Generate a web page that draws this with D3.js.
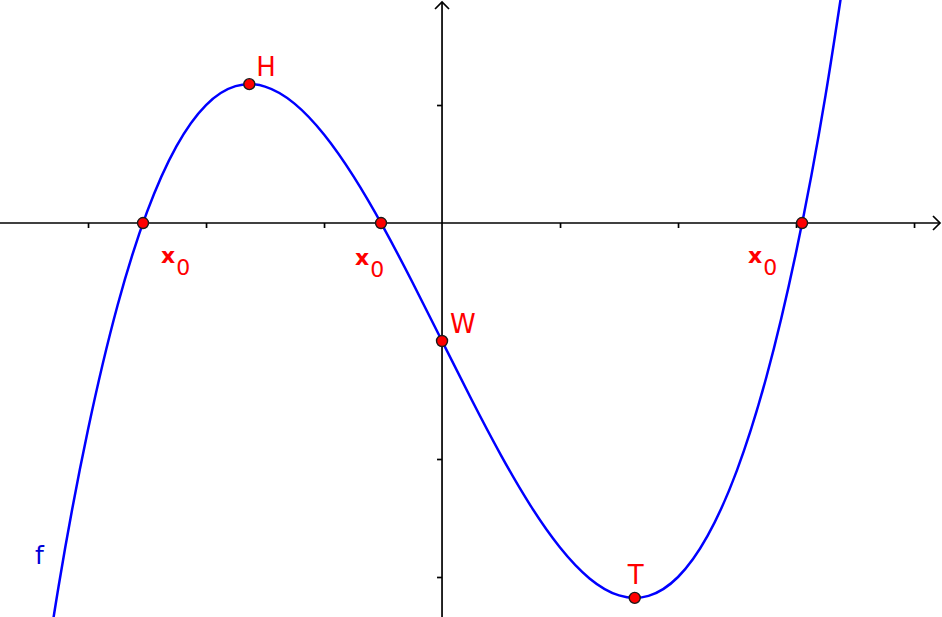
<!DOCTYPE html>
<html>
<head>
<meta charset="utf-8">
<script src="https://cdn.jsdelivr.net/npm/d3@7"></script>
<style>
  html, body { margin: 0; padding: 0; background: #fff; }
  svg { display: block; }
  text { font-family: "DejaVu Sans", sans-serif; }
</style>
</head>
<body>
<svg id="chart" width="942" height="617"></svg>
<script>
// ---- data ----
const curveX = [-3.5, -3.25, -3.0, -2.75, -2.5, -2.25, -2.0, -1.75, -1.5, -1.25, -1.0, -0.75, -0.5, -0.25,
                0, 0.25, 0.5, 0.75, 1.0, 1.25, 1.5, 1.75, 2.0, 2.25, 2.5, 2.75, 3.0, 3.25, 3.5];
const curveY = [-4.719, -3.082, -1.75, -0.699, 0.094, 0.652, 1.0, 1.160, 1.156, 1.012, 0.75, 0.395, -0.031, -0.504,
                -1.0, -1.496, -1.969, -2.395, -2.75, -3.012, -3.156, -3.160, -3.0, -2.652, -2.094, -1.301, -0.25, 1.082, 2.719];

const pointNames = ["x0", "x0", "x0", "H", "W", "T"];
const pointX = [-2.534, -0.517, 3.051, -1.633, 0, 1.633];
const pointY = [0, 0, 0, 1.177, -1.0, -3.177];

const xTicks = [-3, -2, -1, 1, 2, 3, 4];
const yTicks = [1, -1, -2, -3];

const funcName = "f";
const funcLabelPos = [-3.45, -2.89];

// ---- layout ----
const W = 942, H = 617;
const svg = d3.select("#chart");
const x = d3.scaleLinear().domain([-3.746, 4.237]).range([0, W]);
const y = d3.scaleLinear().domain([1.89, -3.339]).range([0, H]);
const x0 = x(0), y0 = y(0);

// axes lines
const axes = svg.append("g").attr("stroke", "#000").attr("stroke-width", 1.7).attr("fill", "none");
axes.append("line").attr("x1", 0).attr("x2", W - 2).attr("y1", y0).attr("y2", y0);
axes.append("line").attr("x1", x0).attr("x2", x0).attr("y1", 2).attr("y2", H);
// arrows
axes.append("path").attr("d", `M${W - 9},${y0 - 7} L${W - 2},${y0} L${W - 9},${y0 + 7}`);
axes.append("path").attr("d", `M${x0 - 7},${9} L${x0},${2} L${x0 + 7},${9}`);

// ticks via axis generators
const xAxis = d3.axisBottom(x).tickValues(xTicks).tickSizeInner(5).tickSizeOuter(0).tickFormat("");
const yAxis = d3.axisLeft(y).tickValues(yTicks).tickSizeInner(5).tickSizeOuter(0).tickFormat("");
const gx = svg.append("g").attr("transform", `translate(0,${y0})`).call(xAxis);
const gy = svg.append("g").attr("transform", `translate(${x0},0)`).call(yAxis);
[gx, gy].forEach(g => {
  g.select(".domain").remove();
  g.selectAll(".tick line").attr("stroke", "#000").attr("stroke-width", 1.7);
});

// curve
const pts = curveX.map((d, i) => [d, curveY[i]]);
svg.append("path")
  .datum(pts)
  .attr("fill", "none")
  .attr("stroke", "#0000ff")
  .attr("stroke-width", 2.5)
  .attr("d", d3.line().x(d => x(d[0])).y(d => y(d[1])).curve(d3.curveNatural));

// function label
svg.append("text")
  .attr("x", x(funcLabelPos[0])).attr("y", y(funcLabelPos[1]))
  .attr("fill", "#0000d8").attr("font-size", 25)
  .text(funcName);

// points
const pdata = pointNames.map((n, i) => ({ n, x: pointX[i], y: pointY[i] }));
svg.append("g").selectAll("circle").data(pdata).join("circle")
  .attr("cx", d => x(d.x)).attr("cy", d => y(d.y)).attr("r", 5.5)
  .attr("fill", "#ff0000").attr("stroke", "#1a1a1a").attr("stroke-width", 1.4);

// labels
const offsets = [[18, 40], [-26, 42], [-54, 40], [7, -8], [8, -8], [-7, -14]];
const lab = svg.append("g").attr("fill", "#ff0000");
pdata.forEach((d, i) => {
  const t = lab.append("text")
    .attr("x", x(d.x) + offsets[i][0])
    .attr("y", y(d.y) + offsets[i][1]);
  if (d.n === "x0") {
    t.append("tspan").attr("font-size", 22).attr("font-weight", "bold").text("x");
    t.append("tspan").attr("font-size", 22).attr("dx", 1).attr("dy", 12).text("0");
  } else {
    t.attr("font-size", 26).text(d.n);
  }
});
</script>
</body>
</html>
